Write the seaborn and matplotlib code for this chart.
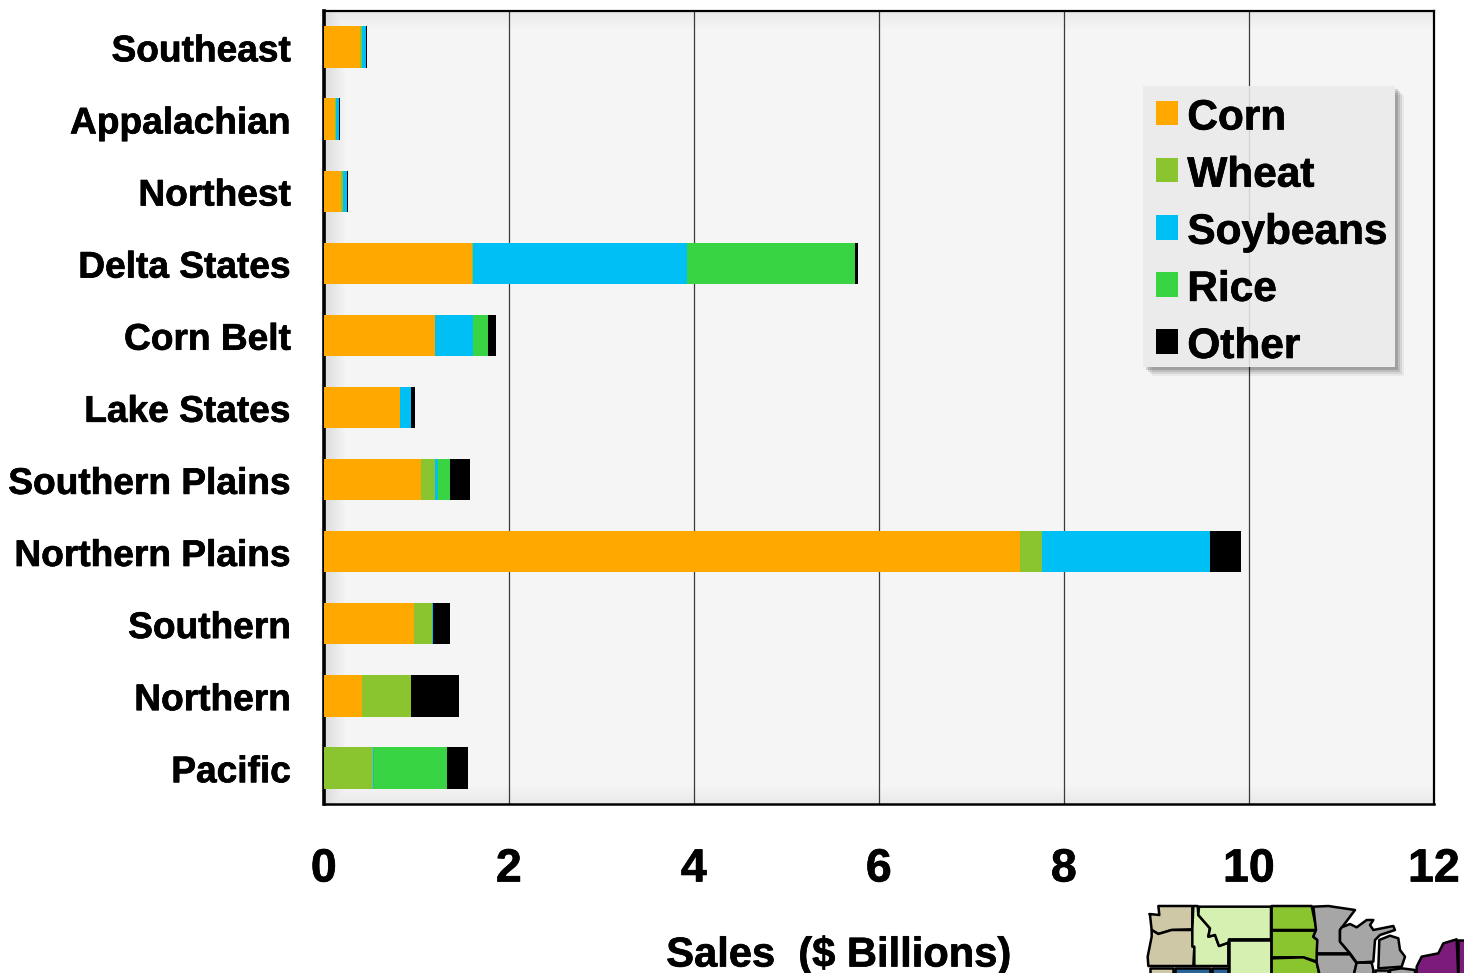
import numpy as np
import pandas as pd
import matplotlib
matplotlib.use("Agg")
import matplotlib.pyplot as plt
import matplotlib.patheffects as pe
from matplotlib.lines import Line2D
from matplotlib.patches import Patch, Polygon, Rectangle
from matplotlib.transforms import ScaledTranslation
import seaborn as sns

# Sales by farm production region, $ billions
regions = ["Southeast", "Appalachian", "Northest", "Delta States", "Corn Belt", "Lake States",
           "Southern Plains", "Northern Plains", "Southern", "Northern", "Pacific"]
corn =     [0.395, 0.12, 0.19, 1.605, 1.205, 0.82, 1.055, 7.53, 0.97, 0.415, 0.0]
wheat =    [0.02, 0.01, 0.02, 0.01, 0.0, 0.0, 0.15, 0.235, 0.195, 0.53, 0.535]
soybeans = [0.04, 0.035, 0.045, 2.31, 0.41, 0.12, 0.025, 1.815, 0.02, 0.0, 0.01]
rice =     [0.0, 0.0, 0.0, 1.82, 0.155, 0.0, 0.135, 0.0, 0.0, 0.0, 0.79]
other =    [0.01, 0.015, 0.005, 0.035, 0.09, 0.05, 0.215, 0.335, 0.18, 0.52, 0.22]

crop_names = ["Corn", "Wheat", "Soybeans", "Rice", "Other"]
crop_colors = ["#FFA900", "#8AC42E", "#00BFF5", "#38D444", "#000000"]
x_ticks = [0, 2, 4, 6, 8, 10, 12]

W, H = 1464, 973
AX_LEFT = 323.8
AX_WIDTH = 1110
sns.set_theme(style="white")
plt.rcParams["font.family"] = ["Liberation Sans", "DejaVu Sans"]
plt.rcParams["font.weight"] = "bold"

heavy = [pe.withStroke(linewidth=0.5, foreground="black")]

fig = plt.figure(figsize=(W / 100, H / 100), dpi=100, facecolor="white")
ax = fig.add_axes([AX_LEFT / W, 1 - 804 / H, AX_WIDTH / W, 793 / H], facecolor="#F5F5F5")

df = pd.DataFrame(dict(zip(crop_names, [corn, wheat, soybeans, rice, other])), index=regions)
running = df.cumsum(axis=1)

# Stack by painting the running totals from the longest one down to the shortest
for name, color in zip(reversed(crop_names), reversed(crop_colors)):
    sns.barplot(x=running[name].values, y=regions, orient="h", color=color, width=0.575,
                saturation=1, linewidth=0, ax=ax, zorder=3)

ax.set_xlim(0, 12)
ax.set_ylim(10.5, -0.5)
ax.set_xticks(x_ticks)
ax.xaxis.grid(True, color="#3A3A3A", linewidth=0.9)
ax.yaxis.grid(False)
ax.set_axisbelow(True)
ax.tick_params(axis="y", length=0, pad=23.5, labelsize=26.7, labelcolor="black")
ax.tick_params(axis="x", length=0, pad=31.3, labelsize=33.5, labelcolor="black")
ax.set_ylabel("")
ax.set_xlabel("Sales  ($ Billions)", fontsize=30, fontweight="bold", color="black")
ax.xaxis.set_label_coords((839 - AX_LEFT) / AX_WIDTH, -(966.5 - 804) / 793, transform=ax.transAxes)
ax.xaxis.label.set_verticalalignment("baseline")
ax.xaxis.label.set_path_effects(heavy)

label_nudge = ScaledTranslation(0, -0.8 / 100, fig.dpi_scale_trans)
for label in ax.get_yticklabels():
    label.set_transform(label.get_transform() + label_nudge)
    label.set_path_effects(heavy)
for label in ax.get_xticklabels():
    label.set_path_effects(heavy)

for side, lw in zip(["left", "right", "top", "bottom"], [2.6, 1.6, 1.6, 1.8]):
    ax.spines[side].set_visible(True)
    ax.spines[side].set_color("black")
    ax.spines[side].set_linewidth(lw)

# Soft inner shading along the plot frame
gx = np.linspace(0, AX_WIDTH, 556)
gy = np.linspace(0, 793, 397)
dist_left = gx[None, :]
dist_edge = np.minimum(gy[:, None], 793 - gy[:, None])
shade = np.maximum(0.10 * np.clip(1 - dist_left / 22, 0, 1), 0.05 * np.clip(1 - dist_edge / 18, 0, 1))
rgba = np.zeros(shade.shape + (4,))
rgba[..., 3] = shade
ax.imshow(rgba, extent=(0, 1, 0, 1), transform=ax.transAxes, aspect="auto", zorder=0.5)
ax.set_xlim(0, 12)
ax.set_ylim(10.5, -0.5)


def fig_xy(px, py):
    return px / W, 1 - py / H


# Legend panel with a soft drop shadow; the gridline shows faintly through it
lx0, ly0, lx1, ly1 = 1143, 86, 1395, 367
for step, alpha in [(9, 0.05), (7, 0.08), (5, 0.11), (3, 0.15)]:
    ax.add_patch(Rectangle(fig_xy(lx0 + step, ly1 + step), (lx1 - lx0) / W, (ly1 - ly0) / H,
                           transform=fig.transFigure, facecolor="black", alpha=alpha,
                           linewidth=0, zorder=4, clip_on=False))
ax.add_patch(Rectangle(fig_xy(lx0, ly1), (lx1 - lx0) / W, (ly1 - ly0) / H,
                       transform=fig.transFigure, facecolor="#EBEBEB",
                       linewidth=0, zorder=4.5, clip_on=False))
grid_x = ax.transData.transform((10, 0))[0]
ax.add_line(Line2D([grid_x, grid_x], [H - ly1, H - ly0], transform=None, color="black",
                   alpha=0.1, linewidth=0.9, zorder=4.6, clip_on=False))

handles = [Patch(facecolor=c, linewidth=0) for c in crop_colors]
legend = ax.legend(handles, crop_names, loc="upper left", bbox_to_anchor=fig_xy(1156, 97),
                   bbox_transform=fig.transFigure, frameon=False, borderpad=0, borderaxespad=0,
                   fontsize=30.5, handlelength=0.52, handleheight=0.52, handletextpad=0.22,
                   labelspacing=0.404)
legend.set_zorder(6)
for text in legend.get_texts():
    text.set_color("black")
    text.set_fontweight("bold")
    text.set_path_effects(heavy)
    text.set_y(-1.5)

# Regional key map, running off the bottom-right corner of the page
map_shapes = [
    ("#CFC8A6", [(175, 198), (277, 198), (277, 268), (215, 270), (175, 282), (155, 270), (150, 225), (148, 222), (178, 225)]),
    ("#CFC8A6", [(155, 270), (175, 282), (215, 270), (277, 270), (283, 320), (280, 378), (145, 378), (143, 350), (155, 290)]),
    ("#CFC8A6", [(150, 385), (220, 385), (220, 410), (150, 410)]),
    ("#2A6496", [(225, 383), (330, 383), (330, 410), (225, 410)]),
    ("#2A6496", [(335, 383), (385, 383), (385, 410), (335, 410)]),
    ("#D5F0B0", [(280, 198), (293, 198), (295, 225), (330, 265), (325, 290), (345, 285), (357, 318), (385, 308), (385, 378), (283, 378), (283, 320), (277, 320), (277, 268)]),
    ("#D5F0B0", [(297, 200), (513, 200), (513, 298), (387, 298), (385, 308), (357, 318), (345, 285), (325, 290), (330, 265), (295, 225)]),
    ("#D5F0B0", [(387, 300), (513, 300), (513, 410), (387, 410)]),
    ("#8AC42E", [(515, 198), (635, 198), (650, 270), (515, 270)]),
    ("#8AC42E", [(515, 272), (648, 272), (640, 290), (652, 300), (652, 365), (610, 352), (515, 352)]),
    ("#8AC42E", [(515, 355), (610, 352), (650, 367), (660, 410), (515, 410)]),
    ("#A6A6A6", [(640, 200), (685, 198), (765, 210), (735, 250), (720, 270), (720, 305), (750, 340), (650, 340), (652, 300), (640, 290), (648, 270)]),
    ("#A6A6A6", [(725, 262), (750, 252), (770, 262), (800, 240), (820, 240), (810, 255), (820, 270), (880, 258), (885, 270), (840, 285), (825, 300), (820, 365), (770, 368), (750, 340), (720, 305), (720, 270)]),
    ("#A6A6A6", [(650, 343), (750, 343), (770, 370), (760, 410), (660, 410), (650, 367)]),
    ("#A6A6A6", [(770, 368), (815, 368), (820, 390), (820, 410), (760, 410)]),
    ("#A6A6A6", [(838, 300), (870, 287), (895, 295), (900, 330), (915, 350), (905, 380), (835, 385)]),
    ("#A6A6A6", [(825, 390), (865, 390), (865, 410), (825, 410)]),
    ("#A6A6A6", [(870, 390), (905, 385), (945, 390), (945, 410), (870, 410)]),
    ("#7B1C7B", [(950, 380), (965, 350), (1015, 340), (1030, 310), (1070, 298), (1075, 410), (950, 410)]),
    ("#7B1C7B", [(1075, 300), (1095, 300), (1095, 410), (1075, 410)]),
]
for color, outline in map_shapes:
    points = [fig_xy(1100 + zx / 3, 840 + zy / 3) for zx, zy in outline]
    fig.add_artist(Polygon(points, closed=True, transform=fig.transFigure, facecolor=color,
                           edgecolor="black", linewidth=1.8, joinstyle="round"))

fig.savefig("out.png", dpi=100, facecolor="white")
